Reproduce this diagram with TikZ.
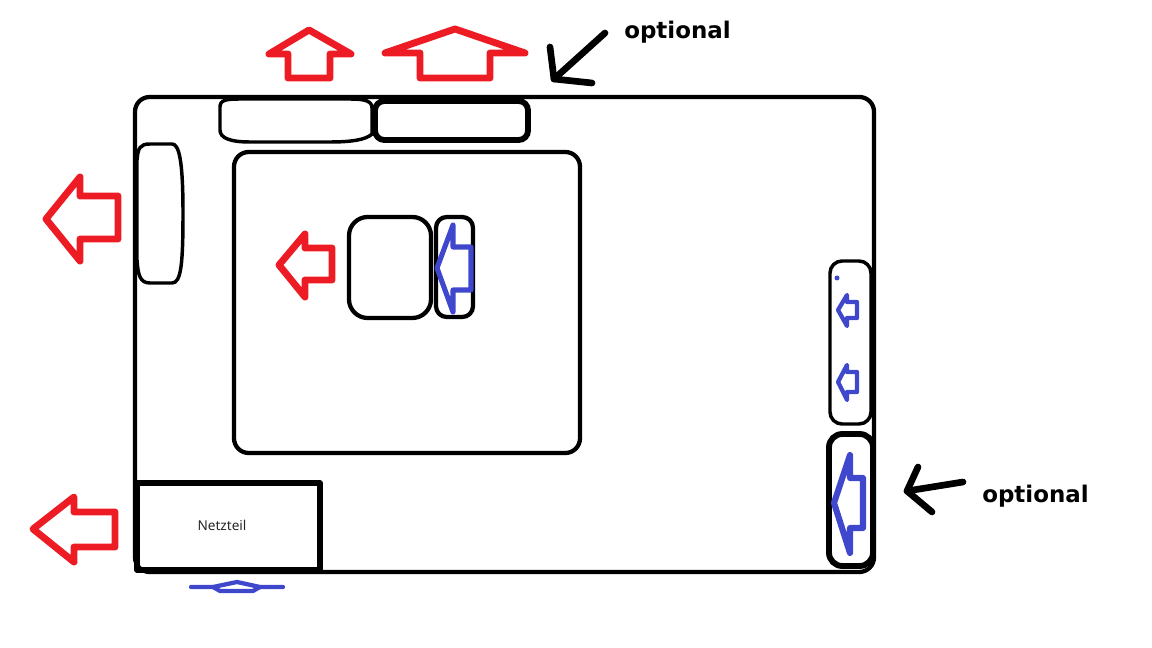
\documentclass[tikz,border=0pt]{standalone}
\usepackage{fontspec}
\setmainfont{DejaVu Sans}
\newfontfamily\labelfont{Noto Sans}
\definecolor{arrowred}{RGB}{237,28,36}
\definecolor{arrowblue}{RGB}{63,72,204}
\tikzset{
  x=0.75pt,y=-0.75pt,
  wall/.style={draw=black,line width=3.2pt,line join=round},
  thinbox/.style={draw=black,line width=2.6pt},
  thickbox/.style={draw=black,line width=4.4pt},
  redarrow/.style={draw=arrowred,line width=5.2pt,line join=round,line cap=round},
  bluearrow/.style={draw=arrowblue,line width=3.8pt,line join=round,line cap=round},
  smallblue/.style={draw=arrowblue,line width=3.2pt,line join=round,line cap=round},
  pointer/.style={draw=black,line width=5pt,line join=round,line cap=round},
  note/.style={font=\bfseries\fontsize{17.2}{20}\selectfont,text=black,inner sep=0pt}
}
\begin{document}
\begin{tikzpicture}
\useasboundingbox (0,0) rectangle (1152,648);
% enclosure
\draw[wall,rounded corners=11pt] (135,97) rectangle (874,572);
% slots on top
\draw[thinbox] (220,107) .. controls (220,100) and (226,99) .. (240,99) -- (350,99) .. controls (365,99) and (372,101) .. (372,108) -- (372,134) .. controls (366,140) and (350,142) .. (330,142) -- (250,142) .. controls (230,142) and (220,138) .. (220,130) -- cycle;
\draw[thickbox,rounded corners=7pt] (375,101) rectangle (528,140);
% left slot
\draw[thinbox] (137,160) .. controls (138,148) and (140,144) .. (150,144) -- (172,144) .. controls (179,144) and (183,160) .. (183,213) .. controls (183,265) and (181,283) .. (172,283) -- (150,283) .. controls (140,283) and (138,275) .. (137,260) -- cycle;
% board
\draw[wall,rounded corners=11pt] (234,152) rectangle (580,453);
\draw[wall,rounded corners=14pt] (349,217) rectangle (431,318);
\draw[wall,rounded corners=8pt] (436,217) rectangle (473,317);
% power supply
\draw[wall,line width=3.8pt] (137,483) -- (320,483) -- (320,570) -- (137,570) -- cycle;
\node[font=\fontsize{10.2}{12}\selectfont\labelfont,text=black!85,inner sep=0pt] (netzteil) at (222,525) {Netzteil};
% right slots
\draw[thinbox,rounded corners=9pt] (830,261) rectangle (871,424);
\draw[thickbox,rounded corners=10pt] (829,434) rectangle (873,566);
% red arrows
\draw[redarrow] (309,30) -- (269,54) -- (288,54) -- (288,78) -- (330,78) -- (330,54) -- (351,54) -- cycle;
\draw[redarrow] (455,29) -- (385,53) -- (420,53) -- (420,78) -- (490,78) -- (490,53) -- (525,53) -- cycle;
\draw[redarrow] (46,219) -- (80,177) -- (80,196) -- (118,196) -- (118,239) -- (80,239) -- (80,261) -- cycle;
\draw[redarrow] (279,265) -- (305,234) -- (305,248) -- (332,248) -- (332,280) -- (305,280) -- (305,297) -- cycle;
\draw[redarrow] (33,529) -- (74,497) -- (74,512) -- (115,512) -- (115,547) -- (74,547) -- (74,562) -- cycle;
% blue arrows
\draw[bluearrow] (437,268) -- (453,225) -- (453,247) -- (471,247) -- (471,290) -- (453,290) -- (453,312) -- cycle;
\draw[bluearrow,line width=4.6pt] (834,503) -- (850,455) -- (850,478) -- (863,478) -- (863,528) -- (850,528) -- (850,553) -- cycle;
\draw[smallblue] (838,310) -- (847,295) -- (847,302) -- (857,302) -- (857,318) -- (847,318) -- (847,326) -- cycle;
\draw[smallblue] (838,382) -- (847,365) -- (847,372) -- (857,372) -- (857,392) -- (847,392) -- (847,400) -- cycle;
\fill[arrowblue] (837,278) circle[radius=2.5];
% flat blue arrow below the enclosure
\draw[smallblue] (191,587) -- (213,587) -- (237,582) -- (260,587) -- (283,587);
\draw[smallblue] (213,587) -- (220,591) -- (253,591) -- (260,587);
% optional pointers
\coordinate (p1) at (605,33); \coordinate (p1tip) at (554,79);
\draw[pointer] (p1) -- (p1tip);
\draw[pointer] (550,47) -- (p1tip) -- (592,83);
\coordinate (p2) at (963,482); \coordinate (p2tip) at (907,491);
\draw[pointer] (p2) -- (p2tip);
\draw[pointer] (918,467) -- (p2tip) -- (932,512);
\node[note,anchor=base west] (opt1) at (624,39) {optional};
\node[note,anchor=base west] (opt2) at (982,502) {optional};
\end{tikzpicture}
\end{document}
